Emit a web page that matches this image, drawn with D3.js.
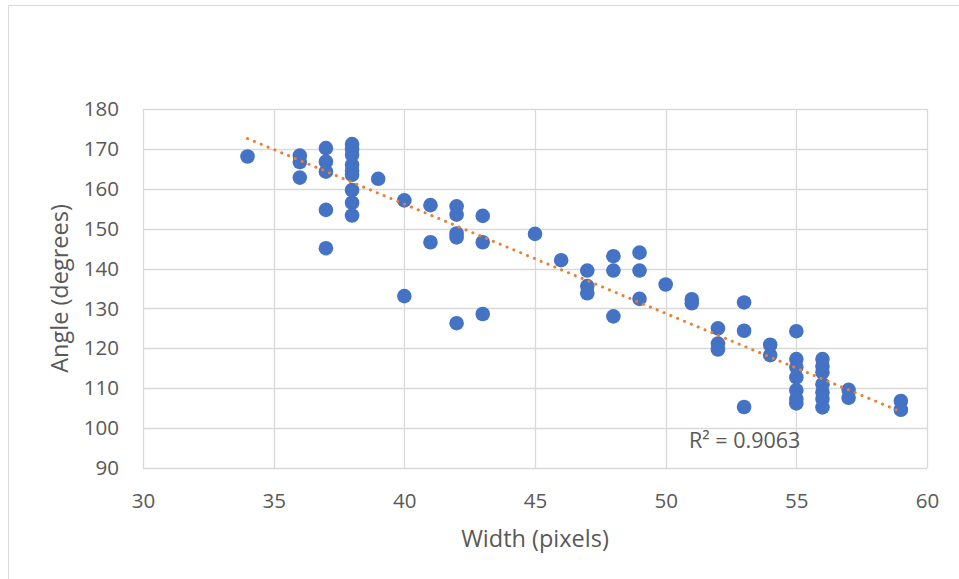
<!DOCTYPE html>
<html><head><meta charset="utf-8">
<script src="https://cdn.jsdelivr.net/npm/d3@7"></script>
<style>body{margin:0;background:#fff;} svg{display:block;font-family:"Open Sans",sans-serif;}</style>
</head><body>
<svg id="c" width="959" height="579"></svg>
<script>
const widths = [34,36,36,36,37,37,37,37,37,38,38,38,38,38,38,38,38,38,39,40,40,41,41,42,42,42,42,42,43,43,43,45,46,47,47,47,48,48,48,49,49,49,50,51,51,52,52,52,53,53,53,54,54,55,55,55,55,55,55,55,56,56,56,56,56,56,56,57,57,59,59];
const angles = [168.1,168.3,166.7,162.8,170.2,166.8,164.3,154.7,145.1,171.2,170,168.5,166,164.5,163.5,159.7,156.5,153.3,162.5,157.1,133.1,155.9,146.6,155.6,153.5,148.8,147.8,126.3,153.2,146.6,128.6,148.7,142.1,139.5,135.6,133.8,143.1,139.5,128,144,139.5,132.4,136,132.3,131.3,125,121.2,119.7,131.5,124.4,105.3,120.9,118.3,124.3,117.3,115.3,112.7,109.5,107.3,106.2,117.3,115.5,114,111,109,107.3,105.2,109.6,107.6,106.8,104.6];
// linear trendline end points as shown (x, y)
const trendX = [34,59];
const trendY = [172.6,104.1];
const xTicks = [30,35,40,45,50,55,60];
const yTicks = [90,100,110,120,130,140,150,160,170,180];
const xTitle = "Width (pixels)";
const yTitle = "Angle (degrees)";
const r2Label = "R² = 0.9063";

const svg = d3.select("#c");
svg.append("rect").attr("x",8.5).attr("y",5.5).attr("width",980).attr("height",600)
  .attr("fill","#fff").attr("stroke","#d9d9d9").attr("stroke-width",1);

const L=143, R=927, T=109, B=468;
const x = d3.scaleLinear().domain([30,60]).range([L,R]);
const y = d3.scaleLinear().domain([90,180]).range([B,T]);

svg.append("g").selectAll("line").data(xTicks).join("line")
  .attr("x1",d=>Math.round(x(d))+0.5).attr("x2",d=>Math.round(x(d))+0.5)
  .attr("y1",T).attr("y2",B).attr("stroke","#d9d9d9").attr("stroke-width",1.3);
svg.append("g").selectAll("line").data(yTicks).join("line")
  .attr("y1",d=>Math.round(y(d))+0.5).attr("y2",d=>Math.round(y(d))+0.5)
  .attr("x1",L).attr("x2",R).attr("stroke","#d9d9d9").attr("stroke-width",1.3);

const xa = svg.append("g").attr("transform",`translate(0,${B})`)
  .call(d3.axisBottom(x).tickValues(xTicks).tickSize(0).tickPadding(25));
const ya = svg.append("g").attr("transform",`translate(${L},0)`)
  .call(d3.axisLeft(y).tickValues(yTicks).tickSize(0).tickPadding(24));
[xa,ya].forEach(a=>{a.select(".domain").remove();
  a.selectAll("text").attr("font-size",20.5).attr("fill","#595959").attr("font-family","'Open Sans',sans-serif");});

svg.append("g").selectAll("circle").data(widths.map((w,i)=>[w,angles[i]])).join("circle")
  .attr("cx",d=>x(d[0])).attr("cy",d=>y(d[1])).attr("r",7.3).attr("fill","#4472c4");

svg.append("line").attr("x1",x(trendX[0])).attr("y1",y(trendY[0])).attr("x2",x(trendX[1])).attr("y2",y(trendY[1]))
  .attr("stroke","#ed7d31").attr("stroke-width",3).attr("stroke-linecap","round")
  .attr("stroke-dasharray","0.1 7.3");

svg.append("text").attr("x",689).attr("y",448).attr("font-size",21.5).attr("fill","#595959").text(r2Label);

svg.append("text").attr("x",(L+R)/2).attr("y",547).attr("text-anchor","middle")
  .attr("font-size",23.5).attr("fill","#595959").text(xTitle);
svg.append("text").attr("transform",`translate(68,${(T+B)/2}) rotate(-90)`).attr("text-anchor","middle")
  .attr("font-size",23.5).attr("fill","#595959").text(yTitle);
</script>
</body></html>
